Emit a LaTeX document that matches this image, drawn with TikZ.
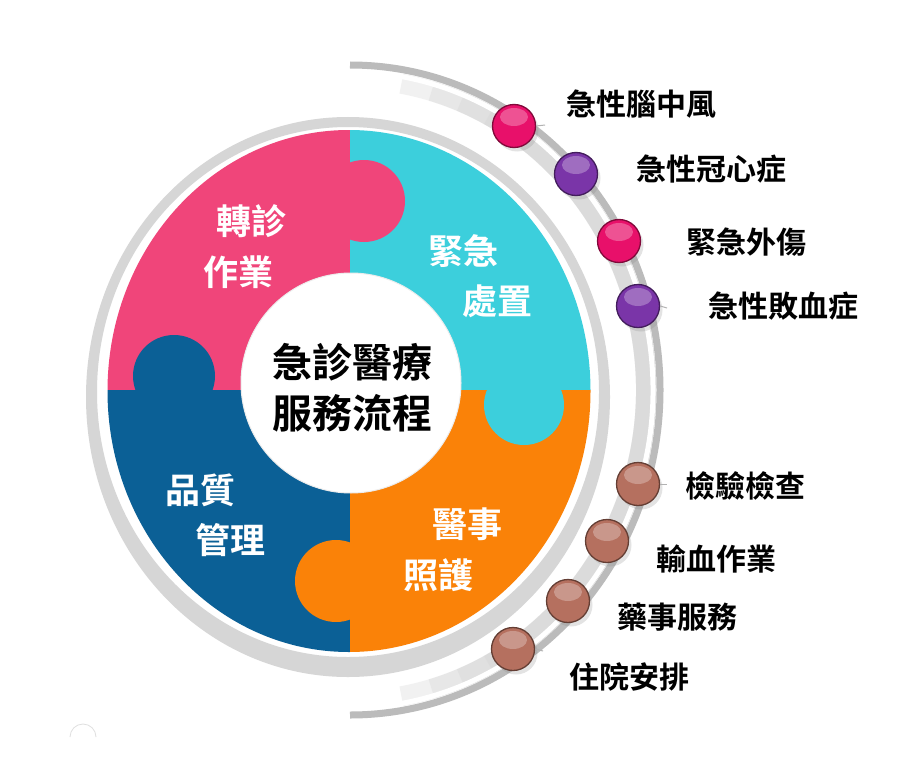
\documentclass[tikz,border=0pt]{standalone}
\usepackage{fontspec}
\setmainfont{Noto Sans CJK TC}[BoldFont={* Bold}]
\usetikzlibrary{shadows}
\definecolor{pinkq}{HTML}{F0457A}
\definecolor{cyanq}{HTML}{3CCFDC}
\definecolor{orangeq}{HTML}{FA8208}
\definecolor{blueq}{HTML}{0B6096}
\definecolor{ringgray}{HTML}{D6D6D6}
\definecolor{arcband}{HTML}{D2D2D2}
\definecolor{arcline}{HTML}{BBBBBB}
\definecolor{ballpink}{HTML}{E8106A}
\definecolor{ballpurple}{HTML}{7A35A8}
\definecolor{ballbrown}{HTML}{B5705F}
\begin{document}
\begin{tikzpicture}[x=1pt,y=-1pt,
  qlabel/.style={text=white,font=\bfseries\fontsize{35}{40}\selectfont,inner sep=0pt},
  clabel/.style={text=black,font=\bfseries\fontsize{40}{46}\selectfont,inner sep=0pt},
  rlabel/.style={text=black,font=\bfseries\fontsize{30}{34}\selectfont,fill=white,inner sep=5pt},
  ballnode/.style={circle,minimum size=43pt,inner sep=0pt,fill=#1,draw=#1!55!black,line width=1.3pt,
    path picture={\fill[white,opacity=0.28] ([yshift=9pt]path picture bounding box.center) ellipse[x radius=14pt,y radius=9pt];},
    drop shadow={opacity=0.22,shadow xshift=3pt,shadow yshift=-4pt}},
  ticklink/.style={draw=gray!60,line width=1pt},
  bandpart/.style={arcband,line width=20pt,opacity=0.3}
]
\useasboundingbox (0,0) rectangle (920,773);
\fill[white] (0,0) rectangle (920,773);

% outer right arc: soft band fading towards its ends
\foreach \a in {80,74,68,62}{
  \draw[bandpart] ([shift={(-\a:296pt and 311pt)}]350,390) arc[start angle=-\a,end angle=\a,x radius=296pt,y radius=311pt];
}
\draw[white,line width=5pt] ([shift={(-82:303pt and 318pt)}]350,390) arc[start angle=-82,end angle=82,x radius=303pt,y radius=318pt];
\draw[arcline,line width=7pt] (350,715) arc[start angle=-90,end angle=90,x radius=310pt,y radius=325pt];

% gray ring
\fill[ringgray,even odd rule] (348,397) ellipse[x radius=262pt,y radius=280pt] (348,392) ellipse[x radius=251pt,y radius=265pt];

% puzzle quadrants
\begin{scope}
\clip (349,391) ellipse[x radius=241.5pt,y radius=261pt];
\fill[pinkq] (100,120) rectangle (350,390);
\fill[cyanq] (350,120) rectangle (600,390);
\fill[orangeq] (350,390) rectangle (600,660);
\fill[blueq] (100,390) rectangle (350,660);
\fill[pinkq] (364,201) circle[radius=41pt];
\fill[blueq] (174,376) circle[radius=41pt];
\fill[cyanq] (524,405) circle[radius=40pt];
\fill[orangeq] (336,581) circle[radius=41pt];
\end{scope}

% centre circle
\fill[white] (351,383) circle[radius=110pt];
\draw[gray!15,line width=1pt] (351,383) circle[radius=110pt];

% texts
\node[qlabel] (q1a) at (251,221) {轉診};
\node[qlabel] (q1b) at (238,272) {作業};
\node[qlabel] (q2a) at (463,251) {緊急};
\node[qlabel] (q2b) at (497,301) {處置};
\node[qlabel] (q3a) at (467,524) {醫事};
\node[qlabel] (q3b) at (438,575) {照護};
\node[qlabel] (q4a) at (200,490) {品質};
\node[qlabel] (q4b) at (230,540) {管理};
\node[clabel] (c1) at (352,362) {急診醫療};
\node[clabel] (c2) at (352,413) {服務流程};

% right labels
\node[rlabel] (l1) at (641,104) {急性腦中風};
\node[rlabel] (l2) at (711,169) {急性冠心症};
\node[rlabel] (l3) at (746,242) {緊急外傷};
\node[rlabel] (l4) at (783,306) {急性敗血症};
\node[rlabel] (l5) at (745,486) {檢驗檢查};
\node[rlabel] (l6) at (716,559) {輸血作業};
\node[rlabel] (l7) at (677,617) {藥事服務};
\node[rlabel] (l8) at (629,677) {住院安排};

% balls
\node[ballnode=ballpink] (b1) at (514,126) {};
\node[ballnode=ballpurple] (b2) at (576,174) {};
\node[ballnode=ballpink] (b3) at (619,241) {};
\node[ballnode=ballpurple] (b4) at (638,306) {};
\node[ballnode=ballbrown] (b5) at (638,484) {};
\node[ballnode=ballbrown] (b6) at (607,541) {};
\node[ballnode=ballbrown] (b7) at (568,601) {};
\node[ballnode=ballbrown] (b8) at (513,649) {};

\coordinate (t1) at (545,125);
\coordinate (t4) at (667,308);
\coordinate (t5) at (667,484);
\coordinate (t8) at (543,651);
\draw[ticklink] (b1.east) -- (t1);
\draw[ticklink] (b4.east) -- (t4);
\draw[ticklink] (b5.east) -- (t5);
\draw[ticklink] (b8.east) -- (t8);

% faint mark
\draw[gray!25,line width=0.8pt] (70,737) arc[start angle=180,end angle=0,radius=13pt];
\end{tikzpicture}
\end{document}
